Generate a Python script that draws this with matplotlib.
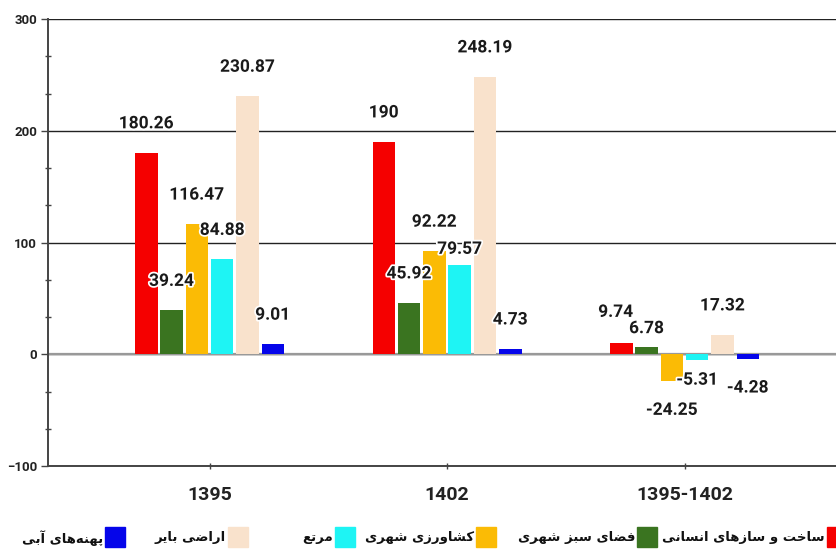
import numpy as np
import matplotlib
matplotlib.use('Agg')
import matplotlib.pyplot as plt
import matplotlib.patheffects as pe
from matplotlib.patches import Rectangle
from matplotlib.ticker import MultipleLocator

# data
groups = ['1395', '1402', '1395-1402']
series = ['ساخت و سازهای انسانی', 'فضای سبز شهری', 'کشاورزی شهری',
          'مرتع', 'اراضی بایر', 'پهنه\u200cهای آبی']
v_1395 = [180.26, 39.24, 116.47, 84.88, 230.87, 9.01]
v_1402 = [190, 45.92, 92.22, 79.57, 248.19, 4.73]
v_diff = [9.74, 6.78, -24.25, -5.31, 17.32, -4.28]
values = np.array([v_1395, v_1402, v_diff])

colors = ['#f50000', '#3a7420', '#fbbb05', '#1ef4f4', '#f9e2cc', '#0505ea']

# --- minimal persian shaping (matplotlib has no bidi / joining) ---
FORMS = {
    'ا': ('\uFE8D', '\uFE8E', None, None), 'آ': ('\uFE81', '\uFE82', None, None),
    'ب': ('\uFE8F', '\uFE90', '\uFE91', '\uFE92'), 'ت': ('\uFE95', '\uFE96', '\uFE97', '\uFE98'),
    'خ': ('\uFEA5', '\uFEA6', '\uFEA7', '\uFEA8'), 'ر': ('\uFEAD', '\uFEAE', None, None),
    'ز': ('\uFEAF', '\uFEB0', None, None), 'س': ('\uFEB1', '\uFEB2', '\uFEB3', '\uFEB4'),
    'ش': ('\uFEB5', '\uFEB6', '\uFEB7', '\uFEB8'), 'ض': ('\uFEBD', '\uFEBE', '\uFEBF', '\uFEC0'),
    'ع': ('\uFEC9', '\uFECA', '\uFECB', '\uFECC'), 'ف': ('\uFED1', '\uFED2', '\uFED3', '\uFED4'),
    'م': ('\uFEE1', '\uFEE2', '\uFEE3', '\uFEE4'), 'ن': ('\uFEE5', '\uFEE6', '\uFEE7', '\uFEE8'),
    'ه': ('\uFEE9', '\uFEEA', '\uFEEB', '\uFEEC'), 'و': ('\uFEED', '\uFEEE', None, None),
    'پ': ('\uFB56', '\uFB57', '\uFB58', '\uFB59'), 'ک': ('\uFB8E', '\uFB8F', '\uFB90', '\uFB91'),
    'ی': ('\uFBFC', '\uFBFD', '\uFBFE', '\uFBFF'),
}
RIGHT_ONLY = set('اآرزو')


def shape_fa(s):
    out = []
    for i, ch in enumerate(s):
        if ch not in FORMS:
            out.append(ch)
            continue
        prev = s[i - 1] if i > 0 else ''
        nxt = s[i + 1] if i + 1 < len(s) else ''
        jp = prev in FORMS and prev not in RIGHT_ONLY
        jn = ch not in RIGHT_ONLY and nxt in FORMS
        iso, fin, ini, med = FORMS[ch]
        if jp and jn:
            out.append(med)
        elif jp:
            out.append(fin)
        elif jn:
            out.append(ini)
        else:
            out.append(iso)
    return ''.join(out).replace('\u200c', '')[::-1]


W, H = 836, 556
fig = plt.figure(figsize=(W / 100, H / 100), dpi=100)
ax = fig.add_axes([48 / W, (H - 466) / H, (W - 48) / W, (466 - 19) / H])

x = np.arange(len(groups))
stride = 25.3 / 237.5
width = 22.5 / 237.5
for i in range(len(series)):
    ax.bar(x + (i - 2.5) * stride, values[:, i], width, color=colors[i], zorder=3)

ax.set_xlim(-(209.5 - 48) / 237.5, 2 + (836 - 684.5) / 237.5)
ax.set_ylim(-100, 300)

# labels: ~29 px above/below bar end, a few nudged as in the original
nudge = {(1, 3): (0, 16), (2, 0): (-5.5, 31), (2, 1): (0, 18), (2, 3): (0, 20)}
for g in range(len(groups)):
    for i in range(len(series)):
        v = values[g, i]
        dx, d = nudge.get((g, i), (0, 29))
        dy = d if v >= 0 else -d
        ax.annotate(f'{v:g}', (x[g] + (i - 2.5) * stride, v),
                    xytext=(dx * 0.72, dy * 0.72), textcoords='offset points',
                    ha='center', va='center', fontsize=12.5, fontweight='bold',
                    family='Roboto', color='#1a1a1a', zorder=5,
                    path_effects=[pe.withStroke(linewidth=2.5, foreground='white')])

ax.yaxis.set_major_locator(MultipleLocator(100))
ax.yaxis.set_minor_locator(MultipleLocator(100 / 3))
ax.grid(axis='y', which='major', color='#222222', linewidth=1, zorder=1)
ax.axhline(0, color='#999999', linewidth=1.6, zorder=2)

for s in ['top', 'right']:
    ax.spines[s].set_visible(False)
for s in ['left', 'bottom']:
    ax.spines[s].set_color('#444444')
    ax.spines[s].set_linewidth(1.4)

ax.tick_params(axis='y', which='major', direction='out', length=5, width=1, color='#444444',
               pad=3, labelsize=9.5, labelcolor='#222222')
ax.tick_params(axis='y', which='minor', direction='inout', length=4, width=1, color='#444444')
ax.tick_params(axis='x', direction='inout', length=5, width=1, color='#444444',
               pad=12, labelsize=14, labelcolor='#222222')
ax.set_xticks(x)
ax.set_xticklabels(groups)
for t in ax.get_xticklabels() + ax.get_yticklabels():
    t.set_fontweight('bold')
    t.set_family('Roboto')

# hand-made legend along the bottom, right to left like the original
sq_left = [827, 637, 476, 335, 228, 105]
for i, name in enumerate(series):
    fig.patches.append(Rectangle((sq_left[i] / W, (H - 547) / H), 20 / W, 20 / H,
                                 transform=fig.transFigure, color=colors[i]))
    fig.text((sq_left[i] - 2) / W, (H - 538) / H, shape_fa(name), ha='right', va='center',
             fontsize=9.5, fontweight='bold', family=['DejaVu Sans'], color='#111111')

fig.savefig('out.png', dpi=100)
